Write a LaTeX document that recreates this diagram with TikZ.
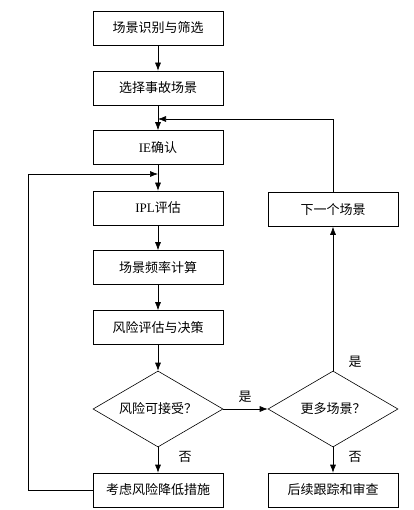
\documentclass[tikz,border=0pt]{standalone}
\usepackage{fontspec}
\setmainfont{Liberation Serif}
\newfontfamily\cjk{Noto Sans CJK SC}
\usepackage{tikz}
\usetikzlibrary{shapes.geometric,arrows.meta}

\begin{document}
\begin{tikzpicture}[x=1pt, y=-1pt,
  box/.style={rectangle, draw, line width=0.6pt, minimum width=130pt, minimum height=34pt, inner sep=2pt, font=\cjk\fontsize{13}{15}\selectfont},
  choice/.style={diamond, draw, line width=0.6pt, aspect=1.7, minimum width=130pt, minimum height=76pt, inner sep=1pt, font=\cjk\fontsize{13}{15}\selectfont},
  lbl/.style={inner sep=1pt, font=\cjk\fontsize{13}{15}\selectfont},
  arr/.style={-{Latex[length=8pt,width=6pt]}, line width=0.6pt}]
\useasboundingbox (0,0) rectangle (413,510);

\node[box] (s1) at (158,28) {场景识别与筛选};
\node[box] (s2) at (158,88) {选择事故场景};
\node[box] (s3) at (158,147.5) {{\rmfamily IE}确认};
\node[box] (s4) at (158,208) {{\rmfamily IPL}评估};
\node[box] (s5) at (158,267.5) {场景频率计算};
\node[box] (s6) at (158,327.5) {风险评估与决策};
\node[choice] (d1) at (158,409) {风险可接受？};
\node[box] (s7) at (158,490) {考虑风险降低措施};

\node[choice] (d2) at (333,409) {更多场景？};
\node[box] (r1) at (333,209.5) {下一个场景};
\node[box] (r2) at (333,490) {后续跟踪和审查};

\coordinate (m1) at (158,119);
\coordinate (m2) at (158,174);
\coordinate (l1) at (28,174);

\node[lbl] (yes1) at (245,397) {是};
\node[lbl] (yes2) at (355,362) {是};
\node[lbl] (no1) at (185,457) {否};
\node[lbl] (no2) at (355,457) {否};

\draw[arr] (s1)--(s2);
\draw[arr] (s2)--(s3);
\draw[arr] (s3)--(s4);
\draw[arr] (s4)--(s5);
\draw[arr] (s5)--(s6);
\draw[arr] (s6)--(d1);
\draw[arr] (d1)--(s7);
\draw[arr] (d1)--(d2);
\draw[arr] (d2)--(r2);
\draw[arr] (d2)--(r1);
\draw[arr] (r1) |- (m1);
\draw[arr] (s7.west) -| (l1) -- (m2);
\end{tikzpicture}
\end{document}
